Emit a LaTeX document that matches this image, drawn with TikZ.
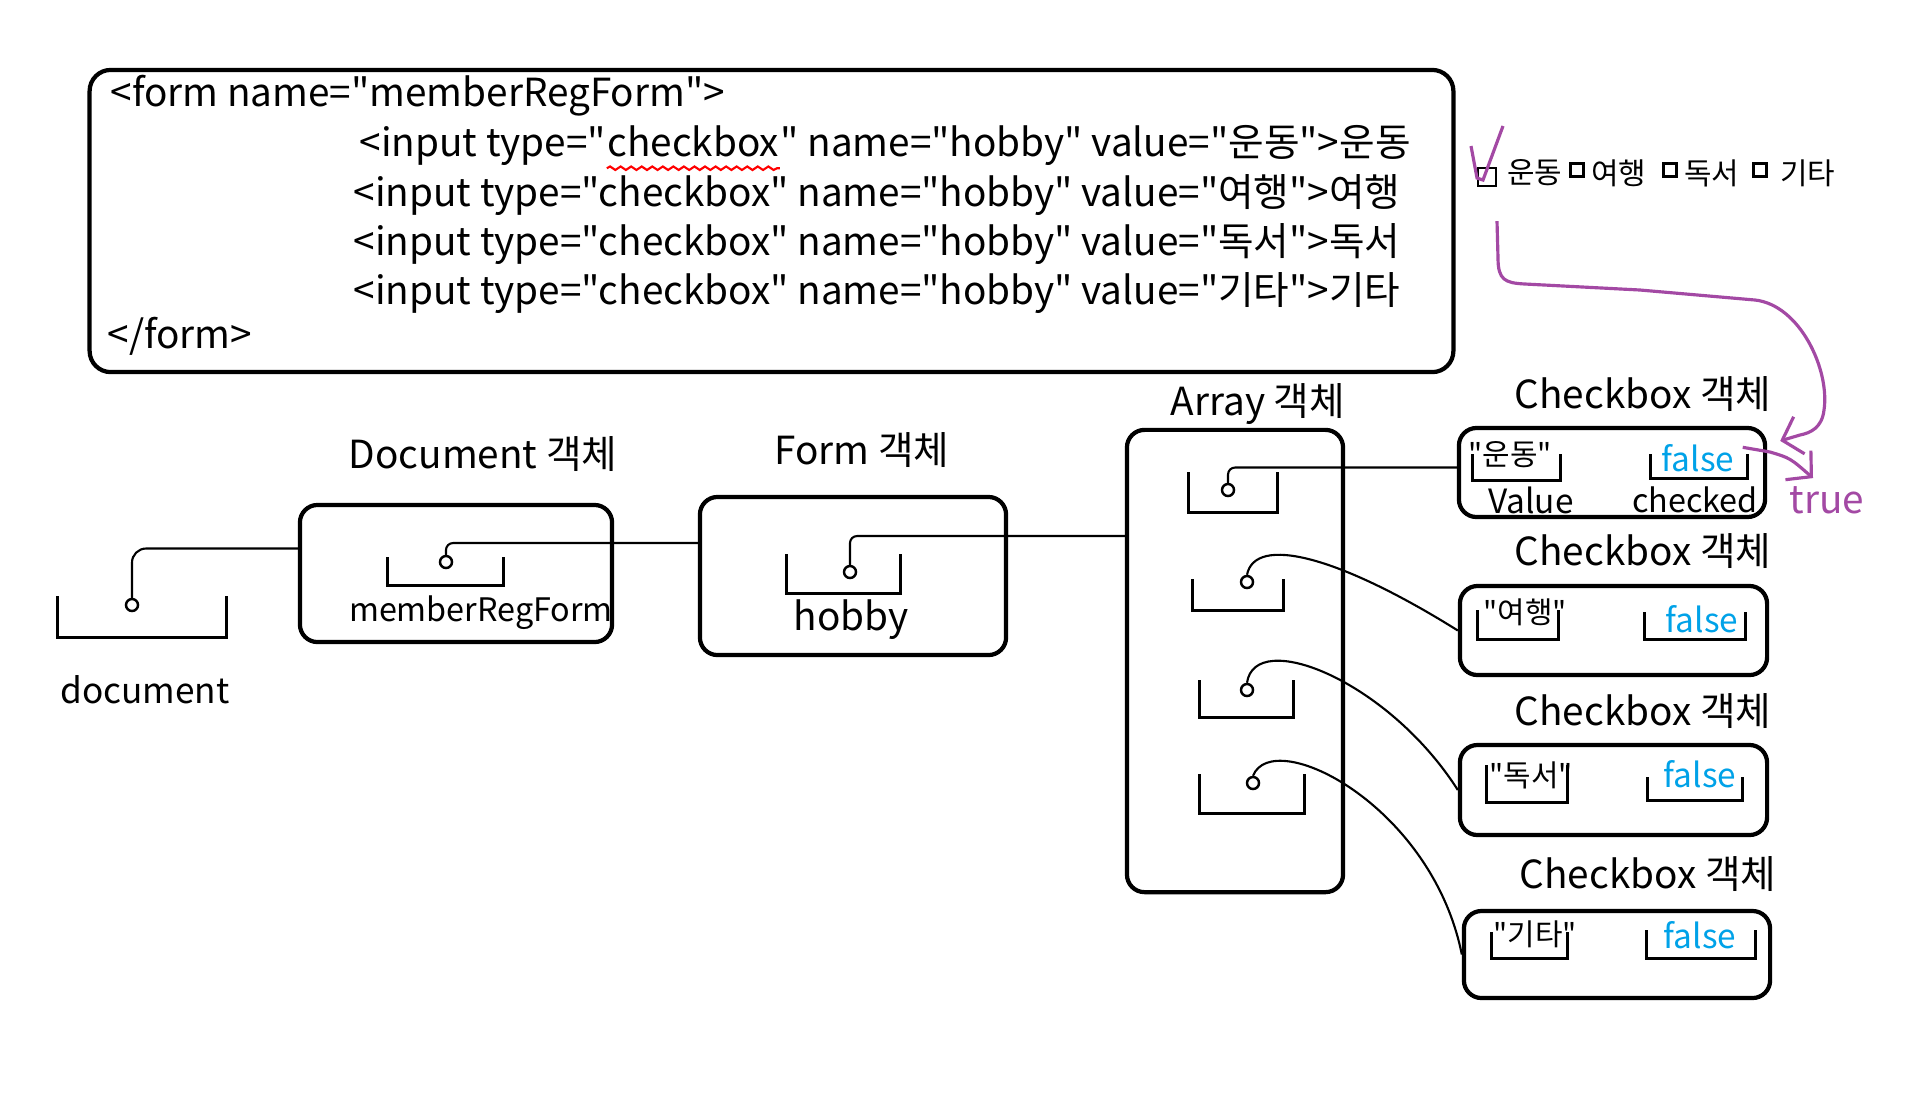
\documentclass[tikz,border=0pt]{standalone}
\usepackage{fontspec}
\setmainfont{Noto Sans CJK KR}[Ligatures=TeXOff]
\usetikzlibrary{arrows.meta, positioning, calc, decorations.pathmorphing}
\definecolor{paintpurple}{RGB}{163,73,164}
\definecolor{paintblue}{RGB}{0,162,232}

\begin{document}
\begin{tikzpicture}[
  x=0.01cm, y=-0.01cm,
  codebox/.style={rounded corners=6pt, draw=black, line width=1.2pt, minimum width=13.63cm, minimum height=3.02cm},
  codeline/.style={anchor=west, inner sep=0pt, font=\fontsize{11}{13}\selectfont},
  objbox/.style={rounded corners=5pt, draw=black, line width=1.2pt},
  objtitle/.style={inner sep=1pt, font=\fontsize{11}{13}\selectfont},
  varname/.style={inner sep=1pt, font=\fontsize{10}{12}\selectfont},
  hand/.style={inner sep=1pt, font=\fontsize{8.5}{10}\selectfont},
  boolval/.style={inner sep=1pt, text=paintblue, font=\fontsize{9.5}{11}\selectfont},
  slot/.style={inner sep=0pt},
  slotline/.style={draw=black, line width=0.8pt},
  ptr/.style={circle, draw=black, line width=0.7pt, inner sep=0pt, minimum size=0.12cm},
  tick/.style={draw=black, line width=0.6pt, inner sep=0pt, minimum size=0.13cm},
  link/.style={draw=black, line width=0.6pt},
  note/.style={draw=paintpurple, line width=0.9pt}
]
\path[use as bounding box, fill=white] (0,0) rectangle (1909,1105);

% HTML source
\node[codebox] (code) at (771.5,221) {};
\node[codeline] (l0) at (110,96) {<form name="memberRegForm">};
\node[codeline] (l1a) at (359,146) {<input type="};
\node[codeline, anchor=base west] (wchk) at (l1a.base east) {checkbox};
\node[codeline, anchor=base west] (l1b) at (wchk.base east) {" name="hobby" value="운동">운동};
\node[codeline] (l2) at (353,195) {<input type="checkbox" name="hobby" value="여행">여행};
\node[codeline] (l3) at (353,244) {<input type="checkbox" name="hobby" value="독서">독서};
\node[codeline] (l4) at (353,293) {<input type="checkbox" name="hobby" value="기타">기타};
\node[codeline] (l5) at (107,336) {</form>};
\draw[red, line width=0.6pt, decorate, decoration={snake, amplitude=0.5pt, segment length=3pt}]
  ([yshift=-3pt]wchk.south west) -- ([yshift=-3pt]wchk.south east);

% rendered checkboxes
\node[tick, minimum size=0.18cm] (cb1) at (1487,177) {};
\node[hand, anchor=west] (t1) at (1503,173) {운동};
\node[tick] (cb2) at (1577,170) {};
\node[hand, anchor=west] (t2) at (1587,173) {여행};
\node[tick] (cb3) at (1670,170) {};
\node[hand, anchor=west] (t3) at (1680,173) {독서};
\node[tick] (cb4) at (1760,170) {};
\node[hand, anchor=west] (t4) at (1776,173) {기타};
\draw[note] ($(cb1)+(-16,-31)$) -- ($(cb1)+(-10,1)$) -- ($(cb1)+(-4,3)$) -- ($(cb1)+(16,-51)$);

% document variable
\node[slot, minimum width=1.68cm, minimum height=0.40cm] (sd) at (142,617) {};
\node[varname] (docname) at (145,690) {document};
\node[ptr] (pd) at (132,605) {};

% Document object
\node[objbox, minimum width=3.12cm, minimum height=1.37cm] (docobj) at (456,573.5) {};
\node[objtitle] (doctitle) at (483,454) {Document 객체};
\node[slot, minimum width=1.15cm, minimum height=0.27cm] (sm) at (445.5,571.5) {};
\node[varname, font=\fontsize{9.2}{11}\selectfont] (mname) at (481,613) {memberRegForm};
\node[ptr] (pm) at (446,562) {};

% Form object
\node[objbox, minimum width=3.06cm, minimum height=1.58cm] (formobj) at (853,576) {};
\node[objtitle] (formtitle) at (862,450) {Form 객체};
\node[slot, minimum width=1.13cm, minimum height=0.38cm] (sh) at (843.5,574) {};
\node[varname, font=\fontsize{11}{13}\selectfont] (hname) at (851,620) {hobby};
\node[ptr] (ph) at (850,572) {};

% Array object
\node[objbox, minimum width=2.16cm, minimum height=4.62cm] (arr) at (1235,661) {};
\node[objtitle] (arrtitle) at (1258,404) {Array 객체};
\node[slot, minimum width=0.88cm, minimum height=0.39cm] (a1) at (1233,492.5) {};
\node[slot, minimum width=0.90cm, minimum height=0.30cm] (a2) at (1238,595) {};
\node[slot, minimum width=0.93cm, minimum height=0.36cm] (a3) at (1246.5,699) {};
\node[slot, minimum width=1.04cm, minimum height=0.38cm] (a4) at (1252,794) {};
\node[ptr] (p1) at (1228,490) {};
\node[ptr] (p2) at (1247,582) {};
\node[ptr] (p3) at (1247,690) {};
\node[ptr] (p4) at (1253,783) {};

% Checkbox objects
\node[objbox, minimum width=3.06cm, minimum height=0.89cm] (cbx1) at (1612,472.5) {};
\node[objbox, minimum width=3.07cm, minimum height=0.89cm] (cbx2) at (1613.5,630.5) {};
\node[objbox, minimum width=3.07cm, minimum height=0.90cm] (cbx3) at (1613.5,790) {};
\node[objbox, minimum width=3.06cm, minimum height=0.87cm] (cbx4) at (1617,954.5) {};
\node[objtitle] (cbt1) at (1643,394) {Checkbox 객체};
\node[objtitle] (cbt2) at (1643,551) {Checkbox 객체};
\node[objtitle] (cbt3) at (1643,711) {Checkbox 객체};
\node[objtitle] (cbt4) at (1648,874) {Checkbox 객체};

\node[slot, minimum width=0.87cm, minimum height=0.25cm] (v1) at (1516.5,467.5) {};
\node[slot, minimum width=0.96cm, minimum height=0.23cm] (c1) at (1699,466.5) {};
\node[slot, minimum width=0.80cm, minimum height=0.28cm] (v2) at (1518,625) {};
\node[slot, minimum width=1.00cm, minimum height=0.26cm] (c2) at (1695,626) {};
\node[slot, minimum width=0.80cm, minimum height=0.36cm] (v3) at (1527,784) {};
\node[slot, minimum width=0.94cm, minimum height=0.22cm] (c3) at (1695,789) {};
\node[slot, minimum width=0.75cm, minimum height=0.25cm] (v4) at (1529.5,945.5) {};
\node[slot, minimum width=1.08cm, minimum height=0.27cm] (c4) at (1701,944.5) {};

\node[hand] (vt1) at (1510,455) {"운동"};
\node[hand] (vt2) at (1525,612) {"여행"};
\node[hand] (vt3) at (1531,775) {"독서"};
\node[hand] (vt4) at (1535,934) {"기타"};
\node[boolval] (f1) at (1698,458) {false};
\node[boolval] (f2) at (1702,619) {false};
\node[boolval] (f3) at (1700,774) {false};
\node[boolval] (f4) at (1700,935) {false};
\node[varname, font=\fontsize{9.5}{11}\selectfont] (vlab) at (1531,500) {Value};
\node[varname, font=\fontsize{9.2}{11}\selectfont] (clab) at (1695,500) {checked};
\node[varname, text=paintpurple, font=\fontsize{11}{13}\selectfont] (tru) at (1827,500) {true};

% brackets
\foreach \s in {sd,sm,sh,a1,a2,a3,a4,v1,c1,v2,c2,v3,c3,v4,c4}
  \draw[slotline] (\s.north west) |- (\s.south east) -- (\s.north east);

% references
\draw[link, rounded corners=4pt] (pd.north) |- ($(docobj.west)+(0,-25)$);
\draw[link, rounded corners=2pt] (pm.north) |- ($(formobj.west)+(0,-33)$);
\draw[link, rounded corners=2pt] (ph.north) |- ($(arr.west)+(0,-125)$);
\draw[link, rounded corners=2pt] (p1.north) |- ($(cbx1.west)+(0,-5)$);
\draw[link] (p2.north) .. controls +(8,-40) and +(-120,-75) .. (cbx2.west);
\draw[link] (p3.north) .. controls +(8,-55) and +(-70,-110) .. (cbx3.west);
\draw[link] (p4.north) .. controls +(20,-50) and +(-30,-150) .. (cbx4.west);

% checked -> true
\draw[note, -{Straight Barb[length=5pt, width=11pt]}]
  ($(cb1.south)+(10,34)$) -- (1498,258) .. controls (1498,280) and (1505,283) .. (1525,284)
  -- (1640,290) -- (1755,300) .. controls (1800,305) and (1830,370) .. (1824,410)
  .. controls (1822,428) and (1810,433) .. (1800,435) -- ($(cbx1.north east)+(13,15)$);
\draw[note, -{Straight Barb[length=5pt, width=11pt]}]
  ($(c1.north east)+(-5,-7)$) -- (1770,452) .. controls (1790,458) .. ($(tru.north)+(-14,-4)$);
\end{tikzpicture}
\end{document}
